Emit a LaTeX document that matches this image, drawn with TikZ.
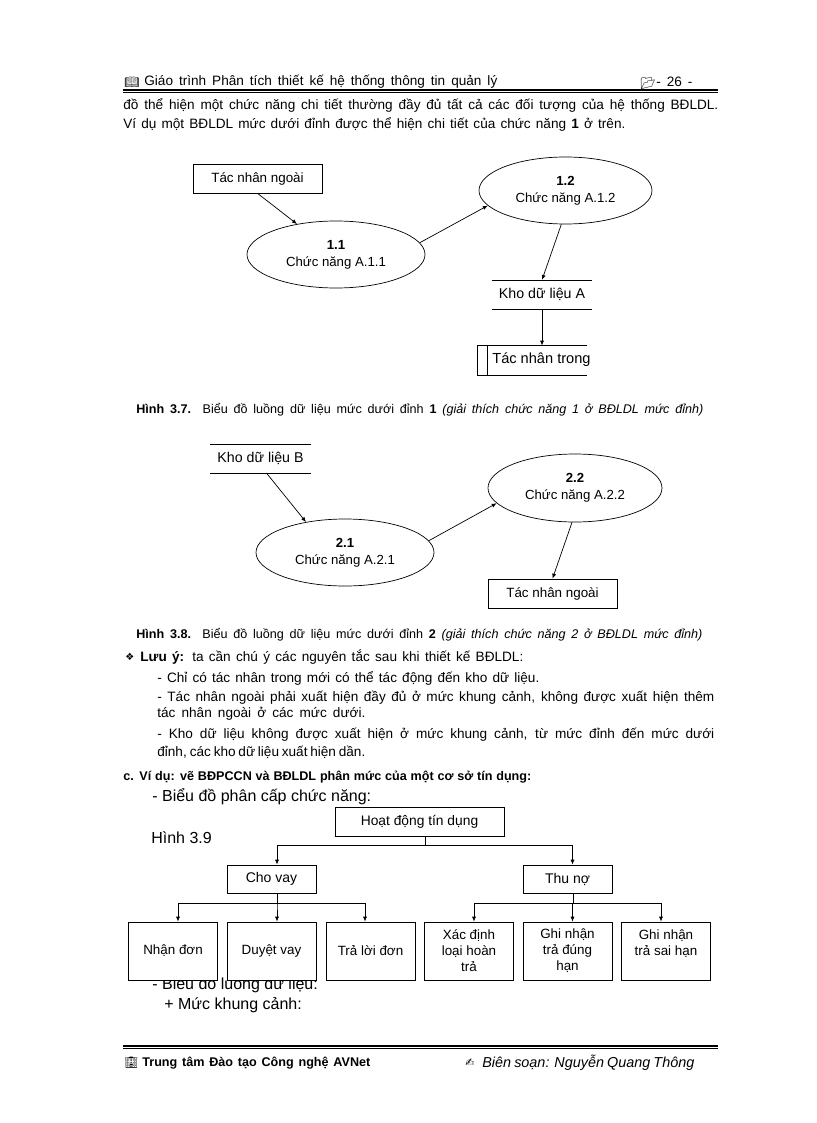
\documentclass[tikz,border=0pt]{standalone}
\usepackage{fontspec}
\setmainfont{Liberation Sans}
\newfontfamily\symfont{DejaVu Sans}
\newfontfamily\emofont{Noto Emoji}
\usetikzlibrary{shapes.geometric,arrows.meta}
\newcommand{\fitline}[2]{\makebox[#1pt][s]{#2}}
\tikzset{
  every picture/.style={line width=0.7pt},
  txt/.style={anchor=west,inner sep=0pt,font=\fontsize{13.6}{14}\selectfont},
  bigtxt/.style={anchor=west,inner sep=0pt,font=\fontsize{16}{16}\selectfont},
  captxt/.style={anchor=west,inner sep=0pt,font=\fontsize{12.6}{14}\selectfont},
  flow/.style={-{Latex[length=5pt,width=4pt]}},
  func/.style={draw,ellipse,inner sep=0pt,align=center,font=\fontsize{13.2}{16}\selectfont},
  agentbox/.style={draw,fill=white,inner sep=0pt,align=center,font=\fontsize{13.4}{16}\selectfont},
  storebox/.style={inner sep=0pt,minimum width=100pt,minimum height=28.5pt,font=\fontsize{14.2}{14}\selectfont}
}
\begin{document}
\begin{tikzpicture}[x=1pt,y=-1pt]
  \useasboundingbox[fill=white] (0,0) rectangle (816,1123);
  % header
  \node[txt] (bookicon) at (124,82) {\emofont\fontsize{12}{12}\selectfont 📖};
  \node[txt] (headleft) at (144,82) {\fitline{353}{Giáo trình Phân tích thiết kế hệ thống thông tin quản lý}};
  \node[txt] (foldericon) at (640,83) {\emofont\fontsize{12}{12}\selectfont 📂};
  \node[txt] (headpage) at (656,82) {\fitline{36}{- 26 -}};
  \fill (123,88.7) rectangle (718,90.7);
  \fill (123,91.6) rectangle (718,92.4);
  \node[txt] (para1) at (123,105) {\fitline{595}{đồ thể hiện một chức năng chi tiết thường đầy đủ tất cả các đối tượng của hệ thống BĐLDL.}};
  \node[txt] (para2) at (123,124) {\fitline{502}{Ví dụ một BĐLDL mức dưới đỉnh được thể hiện chi tiết của chức năng \textbf{1} ở trên.}};
  % hinh 3.7
  \node[agentbox,minimum width=129pt,minimum height=29pt] (ext1) at (257.5,178.5) {\raisebox{1pt}{Tác nhân ngoài}};
  \node[func,minimum width=178pt,minimum height=67pt] (f11) at (336,254.5) {\raisebox{3pt}{\textbf{1.1}}\\\raisebox{2pt}{Chức năng A.1.1}};
  \node[func,minimum width=173pt,minimum height=67pt] (f12) at (565.5,190.5) {\raisebox{3pt}{\textbf{1.2}}\\\raisebox{2pt}{Chức năng A.1.2}};
  \node[storebox] (storeA) at (542,294.5) {Kho dữ liệu A};
  \node[inner sep=0pt,minimum width=109pt,minimum height=29pt] (intern) at (532.5,360.5) {};
  \node[txt,font=\fontsize{14.6}{14}\selectfont] (interntxt) at (492,360) {Tác nhân trong};
  \draw (intern.north east) -- (intern.north west) -- (intern.south west) -- (intern.south east);
  \draw ([xshift=10pt]intern.north west) -- ([xshift=10pt]intern.south west);
  \draw[flow] (ext1.south) -- (f11.142);
  \draw[flow] (f11.8) -- (f12.191);
  \draw[flow] (f12.263) -- (storeA.north);
  \draw[flow] (storeA.south) -- (storeA.south |- intern.north);
  \node[captxt] (cap37) at (136,410) {\fitline{567}{\textbf{Hình 3.7.} Biểu đồ luồng dữ liệu mức dưới đỉnh \textbf{1} \textit{(giải thích chức năng 1 ở BĐLDL mức đỉnh)}}};
  % hinh 3.8
  \node[storebox] (storeB) at (260.5,458.5) {Kho dữ liệu B};
  \node[func,minimum width=178pt,minimum height=67pt] (f21) at (345,552.5) {\raisebox{3pt}{\textbf{2.1}}\\\raisebox{2pt}{Chức năng A.2.1}};
  \node[func,minimum width=174pt,minimum height=68pt] (f22) at (575,488) {\raisebox{3pt}{\textbf{2.2}}\\\raisebox{2pt}{Chức năng A.2.2}};
  \node[agentbox,minimum width=129pt,minimum height=29pt] (ext2) at (552.5,593.5) {\raisebox{1pt}{Tác nhân ngoài}};
  \draw[flow] ([xshift=6pt]storeB.south) -- (f21.142);
  \draw[flow] (f21.8) -- (f22.191);
  \draw[flow] (f22.265) -- (ext2.north);
  \foreach \s in {storeA,storeB} {
    \draw (\s.north west) -- (\s.north east);
    \draw (\s.south west) -- (\s.south east);
  }
  \node[captxt] (cap38) at (136,635) {\fitline{566}{\textbf{Hình 3.8.} Biểu đồ luồng dữ liệu mức dưới đỉnh \textbf{2} \textit{(giải thích chức năng 2 ở BĐLDL mức đỉnh)}}};
  % luu y
  \node[txt] (noteicon) at (125,657) {\symfont\fontsize{10}{10}\selectfont ❖};
  \node[txt] (note0) at (140,657) {\fitline{383}{\textbf{Lưu ý:} ta cần chú ý các nguyên tắc sau khi thiết kế BĐLDL:}};
  \node[txt] (note1) at (157,678) {\fitline{382}{- Chỉ có tác nhân trong mới có thể tác động đến kho dữ liệu.}};
  \node[txt] (note2) at (157,698) {\fitline{557}{- Tác nhân ngoài phải xuất hiện đầy đủ ở mức khung cảnh, không được xuất hiện thêm}};
  \node[txt] (note3) at (157,714) {\fitline{208}{tác nhân ngoài ở các mức dưới.}};
  \node[txt] (note4) at (157,735) {\fitline{557}{- Kho dữ liệu không được xuất hiện ở mức khung cảnh, từ mức đỉnh đến mức dưới}};
  \node[txt] (note5) at (157,752) {\fitline{208}{đỉnh, các kho dữ liệu xuất hiện dần.}};
  \node[txt,font=\fontsize{12.6}{14}\bfseries\selectfont] (secc) at (123,777) {\fitline{408}{c. Ví dụ: vẽ BĐPCCN và BĐLDL phân mức của một cơ sở tín dụng:}};
  \node[bigtxt] (sub1) at (152,797) {- Biểu đồ phân cấp chức năng:};
  \node[bigtxt] (fig39) at (151,838) {Hình 3.9};
  \node[bigtxt] (sub2) at (152,985) {- Biểu đồ luồng dữ liệu:};
  \node[bigtxt] (sub3) at (164,1005) {+ Mức khung cảnh:};
  % hinh 3.9
  \node[agentbox,minimum width=169pt,minimum height=29pt,font=\fontsize{13.8}{16}\selectfont] (root) at (419.5,821.5) {\raisebox{1pt}{Hoạt động tín dụng}};
  \node[agentbox,minimum width=89pt,minimum height=28pt,font=\fontsize{14}{14}\selectfont] (vay) at (271.5,879) {\raisebox{1pt}{Cho vay}};
  \node[agentbox,minimum width=89pt,minimum height=28pt,font=\fontsize{14}{14}\selectfont] (thu) at (567.5,879) {\raisebox{1pt}{Thu nợ}};
  \foreach \n/\x/\t in {nhan/173/Nhận đơn,duyet/271.5/Duyệt vay,traloi/370.5/Trả lời đơn,xacdinh/469/Xác định\\loại hoàn\\trả,dung/567.5/Ghi nhận\\trả đúng\\hạn,sai/666/Ghi nhận\\trả sai hạn\\\mbox{}}
    \node[agentbox,minimum width=89pt,minimum height=58pt] (\n) at (\x,951) {\t};
  \draw[flow] ([xshift=5.5pt]root.south) -- ++(0,9) -| ([xshift=5.5pt]vay.north);
  \draw[flow] ([xshift=5.5pt]root.south) -- ++(0,9) -| ([xshift=5pt]thu.north);
  \foreach \p/\a/\b in {vay/nhan/5,vay/duyet/5.5,vay/traloi/-5.5,thu/xacdinh/5,thu/dung/5,thu/sai/-5}
    \draw[flow] ([xshift=5.5pt]\p.south) -- ++(0,10) -| ([xshift=\b pt]\a.north);
  % footer
  \fill (123,1045.2) rectangle (718,1047.4);
  \fill (123,1048.4) rectangle (718,1049.2);
  \node[txt] (footicon) at (124,1063) {\emofont\fontsize{11}{11}\selectfont 🏢};
  \node[txt,font=\fontsize{12.6}{14}\bfseries\selectfont] (footleft) at (142,1063) {\fitline{228}{Trung tâm Đào tạo Công nghệ AVNet}};
  \node[txt] (penicon) at (465,1063) {\symfont\fontsize{11}{11}\selectfont ✍};
  \node[txt,font=\fontsize{14.4}{14}\itshape\selectfont] (footright) at (482,1063) {\fitline{212}{Biên soạn: Nguyễn Quang Thông}};
\end{tikzpicture}
\end{document}
